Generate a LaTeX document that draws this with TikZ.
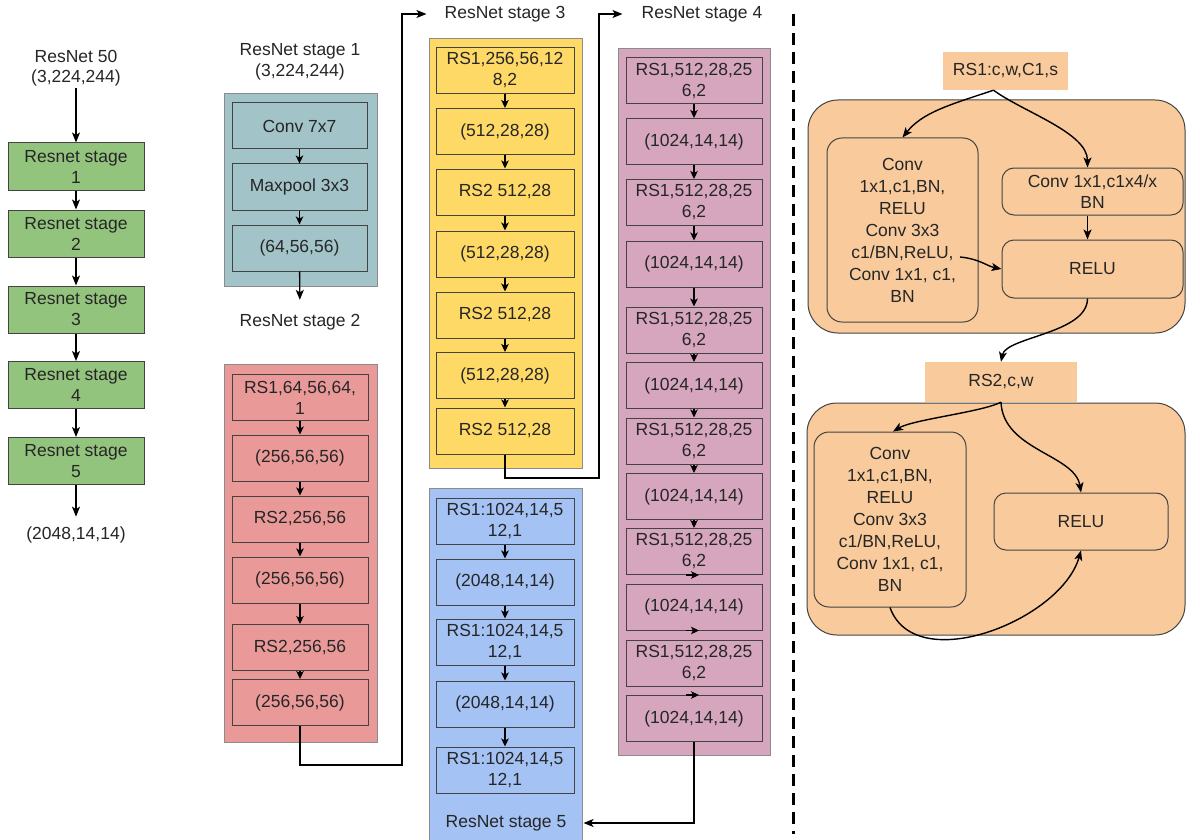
\documentclass[tikz,border=0pt]{standalone}
\usepackage{fontspec}
\setmainfont{Liberation Sans}
\usetikzlibrary{arrows.meta}
\definecolor{cgreen}{HTML}{93C47D}
\definecolor{cteal}{HTML}{A2C4C9}
\definecolor{cred}{HTML}{EA9999}
\definecolor{cyellow}{HTML}{FFD966}
\definecolor{cblue}{HTML}{A4C2F4}
\definecolor{cpink}{HTML}{D5A6BD}
\definecolor{corange}{HTML}{F9CB9C}
\definecolor{cline}{HTML}{434343}
\begin{document}
\begin{tikzpicture}[x=1pt,y=-1pt,
  every node/.style={font=\fontsize{17.5}{21}\selectfont, text=black!85},
  blk/.style={draw=cline, line width=1pt, minimum width=#1, minimum height=46pt,
    inner sep=0pt, align=center},
  blk/.default=136pt,
  lbl/.style={align=center, inner sep=2pt},
  grp/.style={draw=black!45, line width=0.8pt},
  rbox/.style={draw=cline, line width=1pt, rounded corners=#1, inner sep=0pt, align=center,
    fill=corange},
  tag/.style={fill=corange, inner sep=0pt},
  arr/.style={line width=1.4pt, -{Stealth[length=10pt,width=8pt,inset=2.5pt]}},
  tip/.style={line width=1.1pt, -{Stealth[length=8pt,width=7.5pt,inset=2pt]}},
  ]
  \fill[white] (0,0) rectangle (1186,840);
  \useasboundingbox (0,0) rectangle (1186,840);

  % ResNet 50 overview
  \node[lbl, font=\fontsize{17.5}{20}\selectfont] (in) at (76,68) {ResNet 50\\(3,224,244)};
  \foreach \i/\y in {1/166.5,2/233.5,3/309.5,4/385,5/461}
    \node[blk, fill=cgreen, minimum height=47pt] (g\i) at (76,\y) {Resnet stage\\\i};
  \node[lbl] (out) at (76,535) {(2048,14,14)};
  \draw[arr] (in) -- (g1);
  \foreach \i [remember=\i as \last (initially 1)] in {2,...,5}
    \draw[arr] (g\last) -- (g\i);
  \draw[arr, shorten >=8pt] (g5) -- (out);

  % stage 1
  \filldraw[grp, fill=cteal] (224,93) rectangle (377,286);
  \node[lbl] (s1) at (300,62) {ResNet stage 1\\(3,224,244)};
  \node[blk=135pt, fill=cteal] (t1) at (299.5,126) {Conv 7x7};
  \node[blk=135pt, fill=cteal] (t2) at (299.5,187) {Maxpool 3x3};
  \node[blk=135pt, fill=cteal] (t3) at (299.5,248) {(64,56,56)};
  \draw[tip] (t1) -- (t2);
  \draw[tip] (t2) -- (t3);
  \node[lbl] (s2) at (300,322) {ResNet stage 2};
  \draw[arr, shorten >=12pt] (t3) -- (s2);

  % stage 2
  \filldraw[grp, fill=cred] (224,364) rectangle (377,742);
  \node[blk, fill=cred] (r1) at (300,397.5) {RS1,64,56,64,\\1};
  \node[blk, fill=cred] (r2) at (300,458) {(256,56,56)};
  \node[blk, fill=cred] (r3) at (300,519) {RS2,256,56};
  \node[blk, fill=cred] (r4) at (300,580) {(256,56,56)};
  \node[blk, fill=cred] (r5) at (300,647.5) {RS2,256,56};
  \node[blk, fill=cred] (r6) at (300,702.5) {(256,56,56)};
  \foreach \i [remember=\i as \last (initially 1)] in {2,...,6}
    \draw[tip] (r\last) -- (r\i);
  \node[lbl] (s3) at (505,14) {ResNet stage 3};
  \draw[arr, shorten >=16pt] (r6.south) |- (402,765) |- (s3.west);

  % stage 3
  \filldraw[grp, fill=cyellow] (429,38) rectangle (582,468);
  \node[blk=138pt, fill=cyellow] (y1) at (505,70.5) {RS1,256,56,12\\8,2};
  \node[blk=138pt, fill=cyellow] (y2) at (505,131.5) {(512,28,28)};
  \node[blk=138pt, fill=cyellow] (y3) at (505,192) {RS2 512,28};
  \node[blk=138pt, fill=cyellow] (y4) at (505,254) {(512,28,28)};
  \node[blk=138pt, fill=cyellow] (y5) at (505,315) {RS2 512,28};
  \node[blk=138pt, fill=cyellow] (y6) at (505,375.5) {(512,28,28)};
  \node[blk=138pt, fill=cyellow] (y7) at (505,431) {RS2 512,28};
  \foreach \i [remember=\i as \last (initially 1)] in {2,...,7}
    \draw[tip] (y\last) -- (y\i);
  \node[lbl] (s4) at (702,14) {ResNet stage 4};
  \draw[arr, shorten >=17pt] (y7.south) |- (599,478) |- (s4.west);

  % stage 4
  \filldraw[grp, fill=cpink] (618,48) rectangle (770,755);
  \foreach \i/\y in {1/81,3/202.5,5/330,7/441,9/551.5,11/663}
    \node[blk, fill=cpink] (p\i) at (694,\y) {RS1,512,28,25\\6,2};
  \foreach \i/\y in {2/141.5,4/264,6/385.5,8/496.5,10/607,12/718.5}
    \node[blk, fill=cpink] (p\i) at (694,\y) {(1024,14,14)};
  \foreach \i [remember=\i as \last (initially 1)] in {2,...,9}
    \draw[tip] (p\last) -- (p\i);
  \draw[tip] ([xshift=-8pt]p9.south) -- ([xshift=5pt]p9.south);
  \draw[tip] ([xshift=-8pt]p10.south) -- ([xshift=5pt]p10.south);
  \draw[tip] ([xshift=-8pt]p12.north) -- ([xshift=5pt]p12.north);

  % stage 5
  \fill[cblue] (429,488) rectangle (582,840);
  \draw[grp] (429,840) |- (582,488) -- (582,840);
  \foreach \i/\y in {1/521,3/642,5/770}
    \node[blk=138pt, fill=cblue] (b\i) at (505,\y) {RS1:1024,14,5\\12,1};
  \foreach \i/\y in {2/582,4/704}
    \node[blk=138pt, fill=cblue] (b\i) at (505,\y) {(2048,14,14)};
  \foreach \i [remember=\i as \last (initially 1)] in {2,...,5}
    \draw[tip] (b\last) -- (b\i);
  \node[lbl] (s5) at (506,823) {ResNet stage 5};
  \draw[arr, shorten >=15pt] (p12.south) |- (s5.east);

  \draw[line width=3pt, dash pattern=on 12pt off 7pt] (793,14) -- (793,834);

  % residual blocks
  \filldraw[draw=cline, line width=1pt, fill=corange, rounded corners=30pt] (808,100) rectangle (1185,333);
  \node[tag, minimum width=125pt, minimum height=38pt] (rs1) at (1005.5,71) {RS1:c,w,C1,s};
  \node[rbox=15pt, minimum width=151pt, minimum height=184pt, font=\fontsize{17.5}{22}\selectfont]
    (m1) at (902.5,230) {Conv\\1x1,c1,BN,\\RELU\\Conv 3x3\\c1/BN,ReLU,\\Conv 1x1, c1,\\BN};
  \node[rbox=12pt, minimum width=181pt, minimum height=47pt] (k1) at (1092.5,191.5) {Conv 1x1,c1x4/x\\BN};
  \node[rbox=12pt, minimum width=181pt, minimum height=58pt] (u1) at (1092.5,269) {RELU};
  \coordinate (e1) at (960,257);
  \draw[arr] ([xshift=-12pt]rs1.south) .. controls +(-45,15) and +(20,-25) .. (m1.north);
  \draw[arr] ([xshift=-12pt]rs1.south) .. controls +(30,22) and +(0,-35) .. ([xshift=-5pt]k1.north);
  \draw[arr] ([xshift=-5pt]k1.south) -- ([xshift=-5pt]u1.north);
  \draw[arr] (e1) .. controls +(20,2) and +(-15,-3) .. (u1.west);

  \filldraw[draw=cline, line width=1pt, fill=corange, rounded corners=30pt] (807,403) rectangle (1185,635);
  \node[tag, minimum width=152pt, minimum height=40pt] (rs2) at (1001,382) {RS2,c,w};
  \node[rbox=15pt, minimum width=152pt, minimum height=175pt, font=\fontsize{17.5}{22}\selectfont]
    (m2) at (890,519.5) {Conv\\1x1,c1,BN,\\RELU\\Conv 3x3\\c1/BN,ReLU,\\Conv 1x1, c1,\\BN};
  \node[rbox=12pt, minimum width=174pt, minimum height=57pt] (u2) at (1081,521.5) {RELU};
  \draw[arr] ([xshift=-5pt]u1.south) .. controls +(0,35) and +(5,-25) .. (rs2.north);
  \draw[arr] (rs2.south) .. controls +(-20,10) and +(20,-12) .. ([xshift=3pt]m2.north);
  \draw[arr] (rs2.south) .. controls +(2,48) and +(-6,-38) .. (u2.north);
  \draw[arr] (m2.south) .. controls +(25,70) and +(-20,70) .. (u2.south);
\end{tikzpicture}
\end{document}
